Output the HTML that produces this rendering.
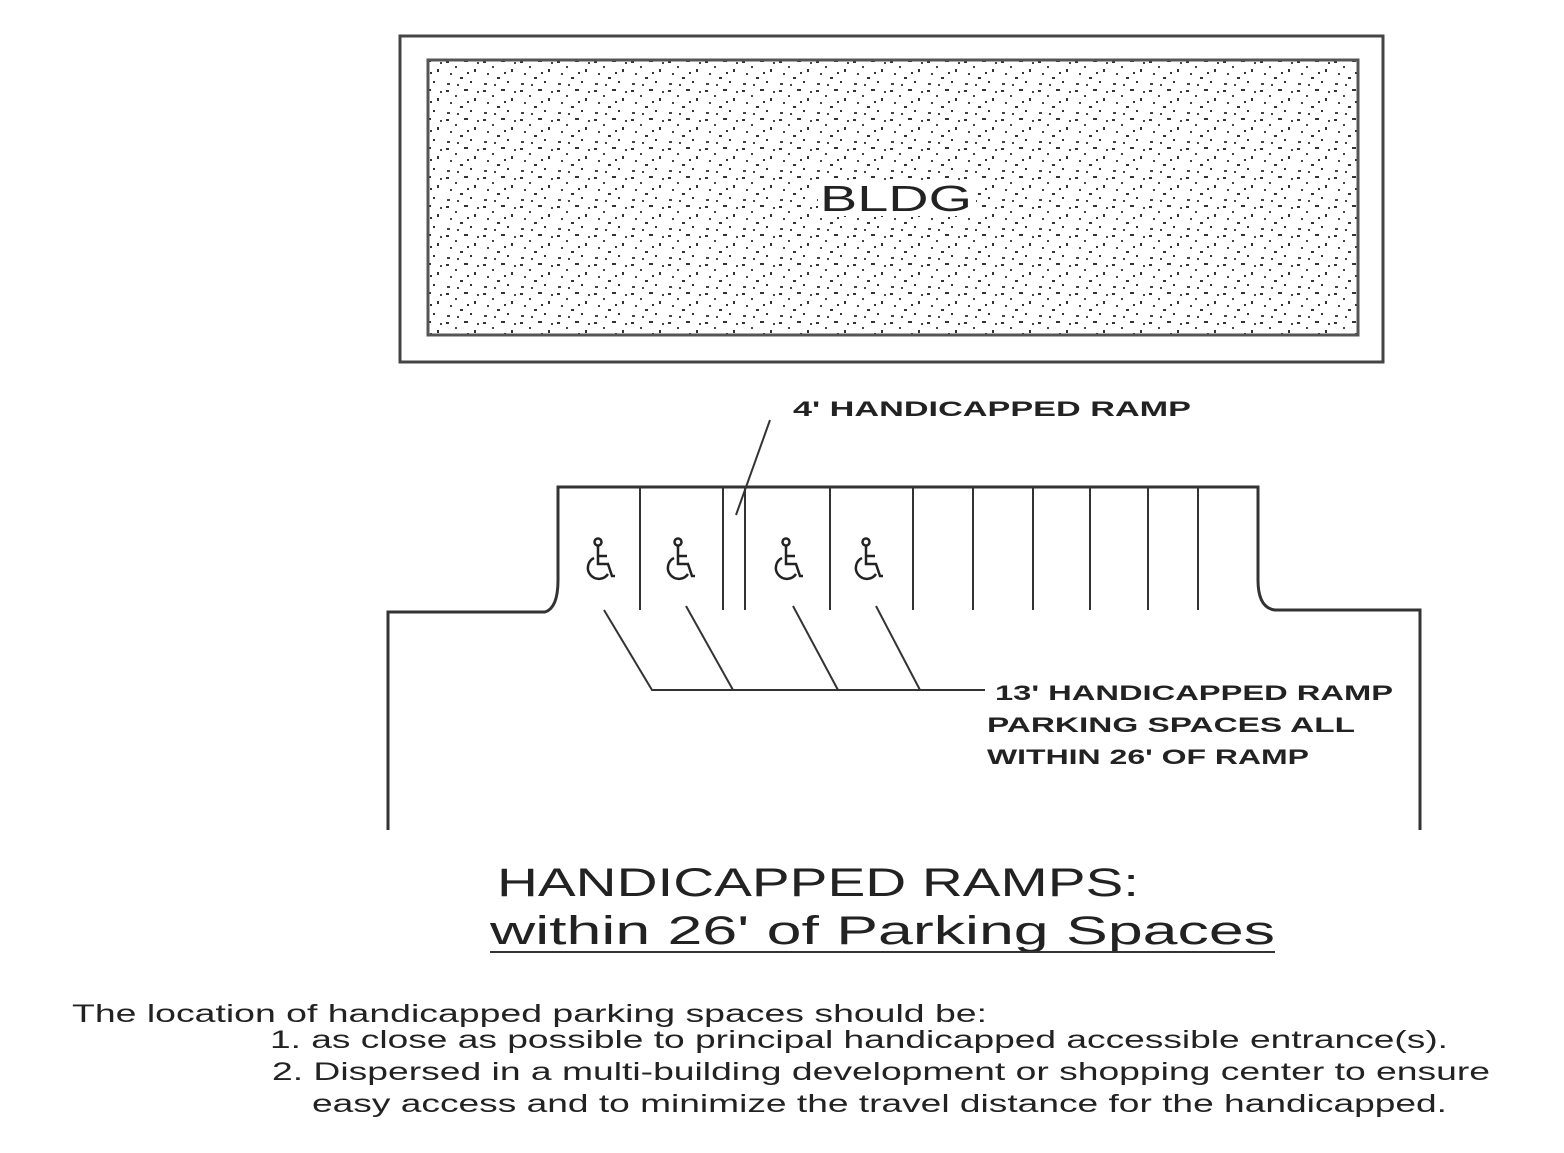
<!DOCTYPE html>
<html><head><meta charset="utf-8"><style>
html,body{margin:0;padding:0;background:#fff;width:1564px;height:1153px;overflow:hidden}
svg{display:block}
text{font-family:"Liberation Sans",sans-serif;fill:#222}
</style></head><body>
<svg width="1564" height="1153" viewBox="0 0 1564 1153" xmlns="http://www.w3.org/2000/svg">
<defs>
<pattern id="st" width="37" height="29" patternUnits="userSpaceOnUse">
<rect x="2" y="3" width="3" height="2" fill="#333"/><rect x="11" y="8" width="2" height="2" fill="#444"/>
<rect x="20" y="2" width="4" height="2" fill="#333"/><rect x="30" y="11" width="2" height="3" fill="#333"/>
<rect x="6" y="15" width="2" height="2" fill="#444"/><rect x="16" y="19" width="3" height="2" fill="#333"/>
<rect x="26" y="23" width="2" height="2" fill="#333"/><rect x="3" y="25" width="3" height="2" fill="#444"/>
<rect x="33" y="4" width="2" height="2" fill="#444"/><rect x="23" y="14" width="2" height="2" fill="#333"/>
<rect x="13" y="26" width="2" height="2" fill="#444"/>
</pattern>
<g id="wc" stroke="#222" stroke-width="2.5" fill="none">
<circle cx="0" cy="-20" r="3.5"/>
<path d="M0 -16 V2 H10 L14 14 H17"/>
<path d="M0 -6 H9"/>
<path d="M-4 -4 A11 11 0 1 0 10 12"/>
</g>
</defs>
<rect x="400" y="36" width="983" height="326" stroke="#444" fill="none" stroke-width="3"/>
<rect x="428" y="60" width="930" height="275" fill="url(#st)" stroke="#555" stroke-width="3"/>
<rect x="818" y="182" width="158" height="34" fill="#fff"/>
<text x="820" y="211" font-size="36" fill="#333" textLength="152" lengthAdjust="spacingAndGlyphs">BLDG</text>
<g stroke="#333" fill="none" stroke-width="3">
<path d="M388 830 V612 H545 Q558 608 558 580 V487 H1258 V580 Q1258 608 1275 610 H1420 V830"/>
</g>
<g stroke="#333" stroke-width="2">
<line x1="640" y1="487" x2="640" y2="610"/><line x1="723" y1="487" x2="723" y2="610"/>
<line x1="745" y1="487" x2="745" y2="610"/><line x1="830" y1="487" x2="830" y2="610"/>
<line x1="913" y1="487" x2="913" y2="610"/><line x1="973" y1="487" x2="973" y2="610"/>
<line x1="1033" y1="487" x2="1033" y2="610"/><line x1="1090" y1="487" x2="1090" y2="610"/>
<line x1="1148" y1="487" x2="1148" y2="610"/><line x1="1198" y1="487" x2="1198" y2="610"/>
<line x1="770" y1="420" x2="736" y2="515"/>
<polyline fill="none" points="604,610 652,690 985,690"/>
<line x1="686" y1="606" x2="733" y2="690"/>
<line x1="793" y1="606" x2="838" y2="690"/>
<line x1="876" y1="606" x2="920" y2="690"/>
</g>
<use href="#wc" x="598" y="562"/><use href="#wc" x="678" y="562"/>
<use href="#wc" x="786" y="562"/><use href="#wc" x="866" y="562"/>
<g font-size="21" font-weight="bold">
<text x="793" y="416" textLength="398" lengthAdjust="spacingAndGlyphs">4' HANDICAPPED RAMP</text>
<text x="995" y="700" textLength="398" lengthAdjust="spacingAndGlyphs">13' HANDICAPPED RAMP</text>
<text x="987" y="732" textLength="368" lengthAdjust="spacingAndGlyphs">PARKING SPACES ALL</text>
<text x="987" y="764" textLength="322" lengthAdjust="spacingAndGlyphs">WITHIN 26' OF RAMP</text>
</g>
<text x="497" y="896" font-size="40" textLength="642" lengthAdjust="spacingAndGlyphs">HANDICAPPED RAMPS:</text>
<text x="490" y="944" font-size="40" textLength="785" lengthAdjust="spacingAndGlyphs">within  26' of Parking Spaces</text>
<line x1="490" y1="952" x2="1275" y2="952" stroke="#333" stroke-width="2"/>
<g font-size="25">
<text x="72" y="1022" textLength="915" lengthAdjust="spacingAndGlyphs">The location of handicapped parking spaces should be:</text>
<text x="270" y="1048" textLength="1178" lengthAdjust="spacingAndGlyphs">1. as close as possible to principal handicapped accessible entrance(s).</text>
<text x="272" y="1080" textLength="1218" lengthAdjust="spacingAndGlyphs">2. Dispersed in a multi-building development or shopping center to ensure</text>
<text x="312" y="1112" textLength="1135" lengthAdjust="spacingAndGlyphs">easy access and to minimize the travel distance for the handicapped.</text>
</g>
</svg>
</body></html>
